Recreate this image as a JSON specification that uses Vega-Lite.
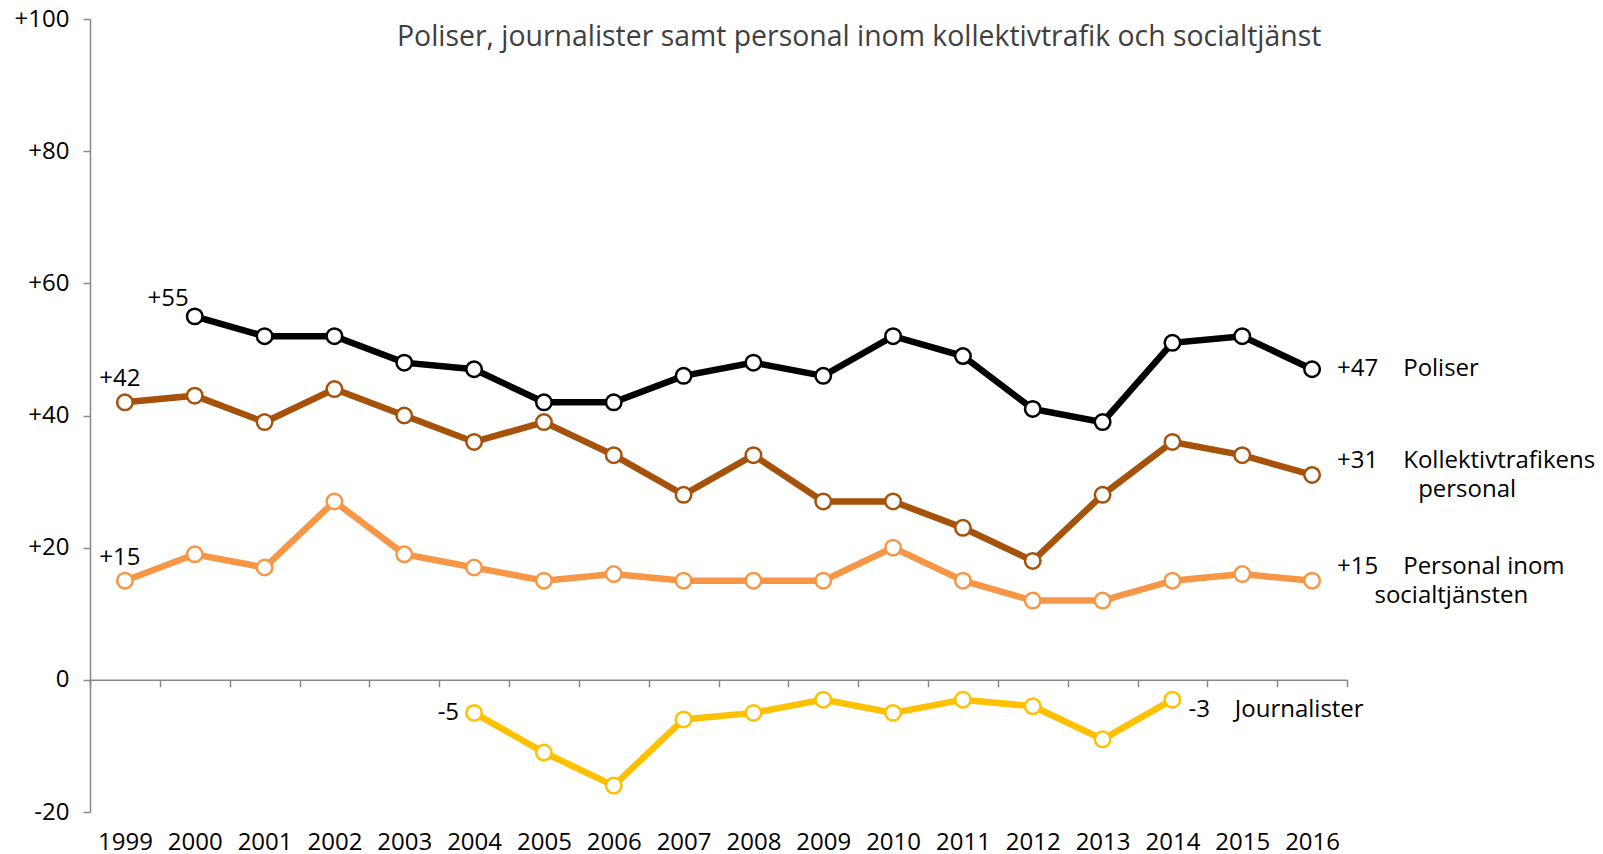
{
  "$schema": "https://vega.github.io/schema/vega-lite/v6.json",
  "width": 1257,
  "height": 793,
  "autosize": "none",
  "padding": {"left": 90, "top": 19, "right": 256, "bottom": 42},
  "background": "white",
  "config": {
    "font": "Open Sans",
    "view": {"stroke": null},
    "text": {"font": "Open Sans", "fontSize": 24, "color": "#000000"}
  },
  "title": {
    "text": "Poliser, journalister samt personal inom kollektivtrafik och socialtjänst",
    "anchor": "start",
    "frame": "group",
    "orient": "top",
    "offset": 0,
    "baseline": "alphabetic",
    "dx": 307,
    "dy": 67,
    "font": "Open Sans",
    "fontSize": 28.4,
    "fontWeight": "normal",
    "color": "#404040"
  },
  "datasets": {
    "series": [
      {"year": "2000", "series": "Poliser", "value": 55},
      {"year": "2001", "series": "Poliser", "value": 52},
      {"year": "2002", "series": "Poliser", "value": 52},
      {"year": "2003", "series": "Poliser", "value": 48},
      {"year": "2004", "series": "Poliser", "value": 47},
      {"year": "2005", "series": "Poliser", "value": 42},
      {"year": "2006", "series": "Poliser", "value": 42},
      {"year": "2007", "series": "Poliser", "value": 46},
      {"year": "2008", "series": "Poliser", "value": 48},
      {"year": "2009", "series": "Poliser", "value": 46},
      {"year": "2010", "series": "Poliser", "value": 52},
      {"year": "2011", "series": "Poliser", "value": 49},
      {"year": "2012", "series": "Poliser", "value": 41},
      {"year": "2013", "series": "Poliser", "value": 39},
      {"year": "2014", "series": "Poliser", "value": 51},
      {"year": "2015", "series": "Poliser", "value": 52},
      {"year": "2016", "series": "Poliser", "value": 47},
      {"year": "1999", "series": "Kollektivtrafikens personal", "value": 42},
      {"year": "2000", "series": "Kollektivtrafikens personal", "value": 43},
      {"year": "2001", "series": "Kollektivtrafikens personal", "value": 39},
      {"year": "2002", "series": "Kollektivtrafikens personal", "value": 44},
      {"year": "2003", "series": "Kollektivtrafikens personal", "value": 40},
      {"year": "2004", "series": "Kollektivtrafikens personal", "value": 36},
      {"year": "2005", "series": "Kollektivtrafikens personal", "value": 39},
      {"year": "2006", "series": "Kollektivtrafikens personal", "value": 34},
      {"year": "2007", "series": "Kollektivtrafikens personal", "value": 28},
      {"year": "2008", "series": "Kollektivtrafikens personal", "value": 34},
      {"year": "2009", "series": "Kollektivtrafikens personal", "value": 27},
      {"year": "2010", "series": "Kollektivtrafikens personal", "value": 27},
      {"year": "2011", "series": "Kollektivtrafikens personal", "value": 23},
      {"year": "2012", "series": "Kollektivtrafikens personal", "value": 18},
      {"year": "2013", "series": "Kollektivtrafikens personal", "value": 28},
      {"year": "2014", "series": "Kollektivtrafikens personal", "value": 36},
      {"year": "2015", "series": "Kollektivtrafikens personal", "value": 34},
      {"year": "2016", "series": "Kollektivtrafikens personal", "value": 31},
      {"year": "1999", "series": "Personal inom socialtjänsten", "value": 15},
      {"year": "2000", "series": "Personal inom socialtjänsten", "value": 19},
      {"year": "2001", "series": "Personal inom socialtjänsten", "value": 17},
      {"year": "2002", "series": "Personal inom socialtjänsten", "value": 27},
      {"year": "2003", "series": "Personal inom socialtjänsten", "value": 19},
      {"year": "2004", "series": "Personal inom socialtjänsten", "value": 17},
      {"year": "2005", "series": "Personal inom socialtjänsten", "value": 15},
      {"year": "2006", "series": "Personal inom socialtjänsten", "value": 16},
      {"year": "2007", "series": "Personal inom socialtjänsten", "value": 15},
      {"year": "2008", "series": "Personal inom socialtjänsten", "value": 15},
      {"year": "2009", "series": "Personal inom socialtjänsten", "value": 15},
      {"year": "2010", "series": "Personal inom socialtjänsten", "value": 20},
      {"year": "2011", "series": "Personal inom socialtjänsten", "value": 15},
      {"year": "2012", "series": "Personal inom socialtjänsten", "value": 12},
      {"year": "2013", "series": "Personal inom socialtjänsten", "value": 12},
      {"year": "2014", "series": "Personal inom socialtjänsten", "value": 15},
      {"year": "2015", "series": "Personal inom socialtjänsten", "value": 16},
      {"year": "2016", "series": "Personal inom socialtjänsten", "value": 15},
      {"year": "2004", "series": "Journalister", "value": -5},
      {"year": "2005", "series": "Journalister", "value": -11},
      {"year": "2006", "series": "Journalister", "value": -16},
      {"year": "2007", "series": "Journalister", "value": -6},
      {"year": "2008", "series": "Journalister", "value": -5},
      {"year": "2009", "series": "Journalister", "value": -3},
      {"year": "2010", "series": "Journalister", "value": -5},
      {"year": "2011", "series": "Journalister", "value": -3},
      {"year": "2012", "series": "Journalister", "value": -4},
      {"year": "2013", "series": "Journalister", "value": -9},
      {"year": "2014", "series": "Journalister", "value": -3}
    ],
    "labels": [
      {"year": "1999", "series": "Kollektivtrafikens personal", "value": 42, "text": "+42", "place": "start"},
      {"year": "1999", "series": "Personal inom socialtjänsten", "value": 15, "text": "+15", "place": "start"},
      {"year": "2000", "series": "Poliser", "value": 55, "text": "+55", "place": "startLate"},
      {"year": "2004", "series": "Journalister", "value": -5, "text": "-5", "place": "startBefore"},
      {"year": "2016", "series": "Poliser", "value": 47, "text": "+47\u00a0\u00a0\u00a0\u00a0Poliser", "place": "end"},
      {"year": "2016", "series": "Kollektivtrafikens personal", "value": 31, "text": "+31\u00a0\u00a0\u00a0\u00a0Kollektivtrafikens\n\u200c\u00a0\u00a0\u00a0\u00a0\u00a0\u00a0\u00a0\u00a0\u00a0\u00a0\u00a0\u00a0\u00a0personal", "place": "endMulti"},
      {"year": "2016", "series": "Personal inom socialtjänsten", "value": 15, "text": "+15\u00a0\u00a0\u00a0\u00a0Personal inom\n\u200c\u00a0\u00a0\u00a0\u00a0\u00a0\u00a0socialtjänsten", "place": "endMulti"},
      {"year": "2014", "series": "Journalister", "value": -3, "text": "-3\u00a0\u00a0\u00a0\u00a0Journalister", "place": "endLow"}
    ]
  },
  "encoding": {
    "x": {
      "field": "year",
      "type": "ordinal",
      "scale": {"type": "band", "paddingInner": 0, "paddingOuter": 0},
      "axis": {
        "title": null,
        "orient": "bottom",
        "offset": -132.2,
        "domainColor": "#888888",
        "domainWidth": 1.5,
        "tickColor": "#888888",
        "tickWidth": 1.5,
        "tickSize": 7,
        "tickBand": "extent",
        "labelAngle": 0,
        "labelFont": "Open Sans",
        "labelFontSize": 24,
        "labelColor": "#000000",
        "labelPadding": 144,
        "labelBaseline": "top"
      }
    },
    "y": {
      "field": "value",
      "type": "quantitative",
      "scale": {"domain": [-20, 100], "nice": false, "zero": false},
      "axis": {
        "title": null,
        "values": [-20, 0, 20, 40, 60, 80, 100],
        "grid": false,
        "domainColor": "#888888",
        "domainWidth": 1.5,
        "tickColor": "#888888",
        "tickWidth": 1.5,
        "tickSize": 7,
        "labelFont": "Open Sans",
        "labelFontSize": 24,
        "labelColor": "#000000",
        "labelPadding": 14,
        "labelExpr": "datum.value > 0 ? '+' + datum.value : '' + datum.value"
      }
    }
  },
  "layer": [
    {
      "data": {"name": "series"},
      "mark": {"type": "line", "strokeWidth": 6.5},
      "encoding": {
        "detail": {"field": "series"},
        "color": {
          "field": "series",
          "type": "nominal",
          "scale": {
            "domain": ["Poliser", "Kollektivtrafikens personal", "Personal inom socialtjänsten", "Journalister"],
            "range": ["#000000", "#A6520B", "#F79646", "#FFC000"]
          },
          "legend": null
        }
      }
    },
    {
      "data": {"name": "series"},
      "mark": {"type": "point", "shape": "circle", "filled": true, "fill": "white", "size": 240, "strokeWidth": 2.5, "opacity": 1},
      "encoding": {
        "stroke": {
          "field": "series",
          "type": "nominal",
          "scale": {
            "domain": ["Poliser", "Kollektivtrafikens personal", "Personal inom socialtjänsten", "Journalister"],
            "range": ["#000000", "#A6520B", "#F79646", "#FFC000"]
          },
          "legend": null
        }
      }
    },
    {
      "data": {"name": "labels"},
      "transform": [{"filter": "datum.place == 'start'"}],
      "mark": {"type": "text", "align": "center", "baseline": "alphabetic", "dx": -5, "dy": -16},
      "encoding": {"text": {"field": "text"}}
    },
    {
      "data": {"name": "labels"},
      "transform": [{"filter": "datum.place == 'startLate'"}],
      "mark": {"type": "text", "align": "right", "baseline": "alphabetic", "dx": -6, "dy": -10},
      "encoding": {"text": {"field": "text"}}
    },
    {
      "data": {"name": "labels"},
      "transform": [{"filter": "datum.place == 'startBefore'"}],
      "mark": {"type": "text", "align": "right", "baseline": "middle", "dx": -15},
      "encoding": {"text": {"field": "text"}}
    },
    {
      "data": {"name": "labels"},
      "transform": [{"filter": "datum.place == 'end'"}],
      "mark": {"type": "text", "align": "left", "baseline": "middle", "dx": 25},
      "encoding": {"text": {"field": "text"}}
    },
    {
      "data": {"name": "labels"},
      "transform": [{"filter": "datum.place == 'endMulti'"}],
      "mark": {"type": "text", "align": "left", "baseline": "middle", "dx": 25, "dy": -14, "lineBreak": "\n", "lineHeight": 29},
      "encoding": {"text": {"field": "text"}}
    },
    {
      "data": {"name": "labels"},
      "transform": [{"filter": "datum.place == 'endLow'"}],
      "mark": {"type": "text", "align": "left", "baseline": "middle", "dx": 16, "dy": 10},
      "encoding": {"text": {"field": "text"}}
    }
  ]
}
